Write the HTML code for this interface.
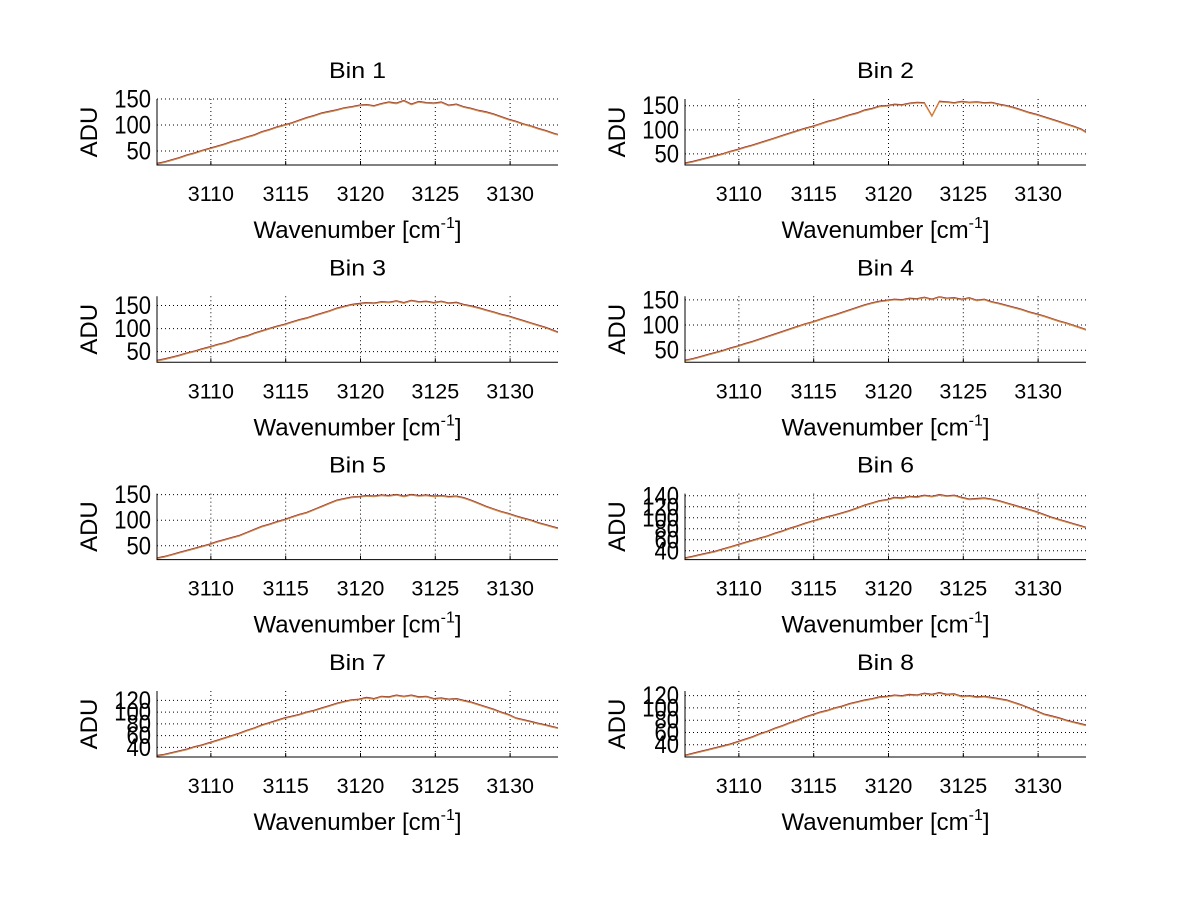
<!DOCTYPE html>
<html><head><meta charset="utf-8"><style>
html,body{margin:0;padding:0;background:#fff;}
svg{display:block;font-family:"Liberation Sans",Arial,sans-serif;}
</style></head><body>
<svg id="fig" width="1200" height="901" viewBox="0 0 1200 901" xmlns="http://www.w3.org/2000/svg"></svg>
<script>
const xStart = 3106.4;
const xStep = 0.5;
const xTicks = [3110, 3115, 3120, 3125, 3130];
const xLimits = [3106.4, 3133.2];
const bin1 = [25,28,32,36,41,45,50,54,58,62,67,71,76,80,86,90,95,99,103,108,113,117,122,125,128,132,134,137,138,136,140,143,141,146,139,144,142,141,143,137,139,134,131,127,124,120,115,110,106,101,97,92,88,83,79];
const bin2 = [30,33,37,41,45,49,54,58,63,67,72,77,82,87,92,97,102,106,111,116,120,125,130,134,140,143,148,149,152,151,154,156,155,128,158,157,155,158,156,157,155,156,152,149,145,140,135,131,126,121,116,111,106,100,90];
const bin3 = [30,33,37,41,46,50,55,59,64,68,73,79,83,89,94,99,104,108,113,118,122,127,132,137,143,147,151,153,155,154,157,156,159,155,160,157,158,155,158,154,156,151,148,144,139,135,130,126,121,116,111,106,101,95,89];
const bin4 = [29,32,36,40,44,48,53,57,62,66,71,76,81,86,91,96,101,105,110,115,119,124,129,134,139,143,146,148,150,149,152,151,154,150,155,152,153,150,153,148,150,145,142,138,134,130,125,121,117,112,107,103,98,93,88];
const bin5 = [25,28,32,36,40,44,48,52,57,61,65,69,75,81,87,91,96,100,105,110,114,120,126,132,138,141,144,145,147,146,148,147,149,146,149,147,148,146,147,145,146,143,138,132,126,121,116,112,107,103,99,94,90,86,82];
const bin6 = [26,29,32,35,38,42,46,50,54,58,62,66,71,75,80,84,89,93,97,101,104,108,112,117,122,126,130,132,136,135,138,137,140,138,141,139,140,136,133,134,135,133,130,126,122,118,114,110,105,100,96,92,88,84,80];
const bin7 = [25,27,30,33,36,40,43,47,51,55,59,63,68,72,77,81,85,89,92,95,99,102,106,110,114,117,120,121,124,122,126,125,128,126,128,125,126,122,123,121,122,119,116,112,108,104,99,95,89,86,83,80,77,74,71];
const bin8 = [22,25,28,31,34,37,40,44,48,52,57,61,66,70,75,79,84,88,92,95,99,102,106,109,112,114,117,118,120,119,121,120,123,121,124,121,122,118,119,117,118,116,114,112,108,104,99,94,89,86,83,79,76,73,70];
const binTitles = ["Bin 1","Bin 2","Bin 3","Bin 4","Bin 5","Bin 6","Bin 7","Bin 8"];
const yLimits = [[23,150],[27,164],[27,170],[26,157],[23,152],[24,144],[23.5,136],[20,127.6]];
const yTicksA = [50,100,150];
const yTicksB = [40,60,80,100,120,140];
const yTicksC = [40,60,80,100,120];
const allBins = [bin1,bin2,bin3,bin4,bin5,bin6,bin7,bin8];
const allYTicks = [yTicksA,yTicksA,yTicksA,yTicksA,yTicksA,yTicksB,yTicksC,yTicksC];

const NS = "http://www.w3.org/2000/svg";
const svg = document.getElementById('fig');
function mk(tag, attrs, parent){
  const e = document.createElementNS(NS, tag);
  for (const k in attrs) e.setAttribute(k, attrs[k]);
  (parent||svg).appendChild(e);
  return e;
}
const colX = [157, 685];
const rowY = [99, 296.3, 493.6, 691];
const W = 401, H = 66;

allBins.forEach(function(vals, i){
  const col = i % 2, row = Math.floor(i / 2);
  const L = colX[col], T = rowY[row], B = T + H, R = L + W;
  const yl = yLimits[i];
  const xs = v => L + (v - xLimits[0]) / (xLimits[1] - xLimits[0]) * W;
  const ys = v => B - (v - yl[0]) / (yl[1] - yl[0]) * H;
  const g = mk('g', {});
  
  
  const cp = mk('clipPath', {id: 'clip' + i}, g);
  mk('rect', {x: L, y: T, width: W, height: H}, cp);
  xTicks.forEach(function(t){
    const gl = mk('line', {x1: xs(t), x2: xs(t), y1: T, y2: B, stroke: '#000', 'stroke-width': 1, 'stroke-dasharray': '1,3'}, g);
    
    
    const tk = mk('line', {x1: xs(t), x2: xs(t), y1: B, y2: B - 4, stroke: '#000', 'stroke-width': 1}, g);
    
    
    const lb = mk('text', {x: xs(t), y: B + 36, 'text-anchor': 'middle', 'font-size': 21.5, fill: '#000'}, g);
    lb.textContent = t;
    
    
  });
  allYTicks[i].forEach(function(t){
    if (t > yl[1] + 0.5 || t < yl[0]) return;
    const gl = mk('line', {x1: L, x2: R, y1: ys(t), y2: ys(t), stroke: '#000', 'stroke-width': 1, 'stroke-dasharray': '1,3'}, g);
    
    
    const lb = mk('text', {x: 0, y: 0, 'text-anchor': 'end', 'font-size': 21, fill: '#000', transform: 'translate(' + (L - 6) + ',' + (ys(t) + 8.5) + ') scale(1.05,1.2)'}, g);
    lb.textContent = t;
    
    
  });
  const ptsB = vals.map((v, k) => xs(xStart + k * xStep).toFixed(1) + ',' + (ys(v) - 0.8).toFixed(1)).join(' ');
  const lnB = mk('polyline', {points: ptsB, fill: 'none', stroke: '#4a2a80', 'stroke-width': 0.8, 'clip-path': 'url(#clip' + i + ')'}, g);
  
  
  const pts = vals.map((v, k) => xs(xStart + k * xStep).toFixed(1) + ',' + ys(v).toFixed(1)).join(' ');
  const ln = mk('polyline', {points: pts, fill: 'none', stroke: '#e87d1e', 'stroke-width': 1.2, 'clip-path': 'url(#clip' + i + ')'}, g);
  
  
  const ax = mk('path', {d: 'M' + L + ' ' + T + ' V' + B + ' H' + R, fill: 'none', stroke: '#000', 'stroke-width': 1}, g);
  
  
  const ti = mk('text', {x: L + W / 2, y: T - 21, 'text-anchor': 'middle', 'font-size': 22, fill: '#000', 'textLength': 57, 'lengthAdjust': 'spacingAndGlyphs'}, g);
  ti.textContent = binTitles[i];
  
  
  const yt = mk('text', {x: 0, y: 0, 'text-anchor': 'middle', 'font-size': 24, fill: '#000', transform: 'translate(' + (L - 60) + ',' + (T + H / 2) + ') rotate(-90)'}, g);
  yt.textContent = 'ADU';
  
  
  const xt = mk('text', {x: L + W / 2, y: B + 73, 'text-anchor': 'middle', 'font-size': 24, fill: '#000'}, g);
  xt.innerHTML = 'Wavenumber [cm<tspan dy="-10" font-size="16">-1</tspan><tspan dy="10">]</tspan>';
  
  
});
</script>
</body></html>
